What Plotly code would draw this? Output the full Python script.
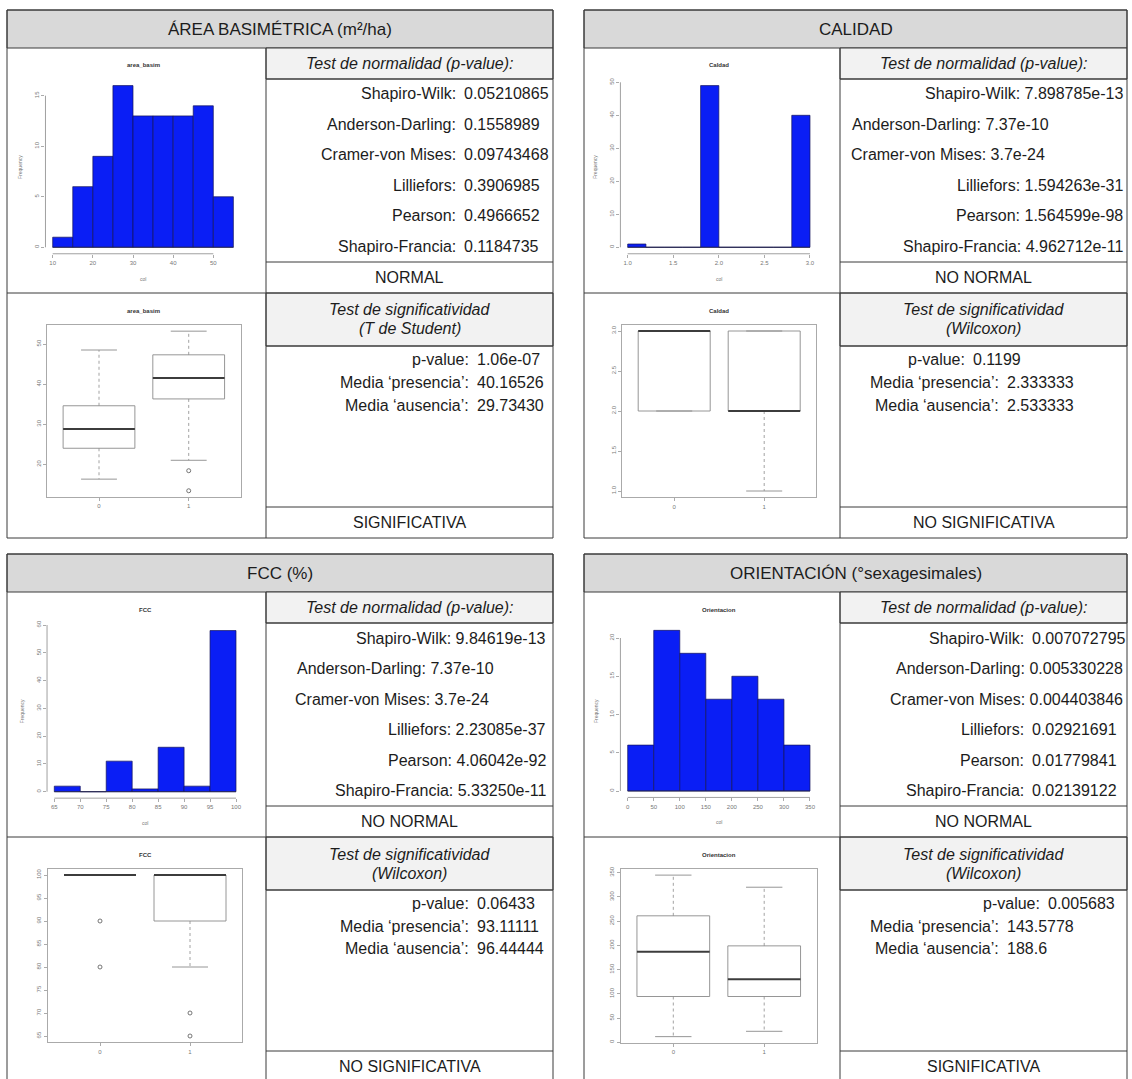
import plotly.graph_objects as go

W, H = 1132, 1079
FONT = "Liberation Sans, Arial, sans-serif"
BORDER = "#3a3a3a"
BLUE = "#0a1ef5"
BODY = 16

# ------------------------- data -------------------------
# histograms (bin edges and counts)
area_edges = [10, 15, 20, 25, 30, 35, 40, 45, 50, 55]
area_counts = [1, 6, 9, 16, 13, 13, 13, 14, 5]
calidad_edges = [1.0, 1.2, 1.4, 1.6, 1.8, 2.0, 2.2, 2.4, 2.6, 2.8, 3.0]
calidad_counts = [1, 0, 0, 0, 49, 0, 0, 0, 0, 40]
fcc_edges = [65, 70, 75, 80, 85, 90, 95, 100]
fcc_counts = [2, 0, 11, 1, 16, 2, 58]
orient_edges = [0, 50, 100, 150, 200, 250, 300, 350]
orient_counts = [6, 21, 18, 12, 15, 12, 6]

# boxplots (groups "0" and "1")
box_groups = ["0", "1"]
area_q1 = [24.0, 36.3]; area_med = [28.8, 41.5]; area_q3 = [34.6, 47.3]
area_lo = [16.3, 21.0]; area_hi = [48.5, 53.2]
area_out_grp = [1, 1]; area_out_val = [18.4, 13.4]
calidad_q1 = [2.0, 2.0]; calidad_med = [3.0, 2.0]; calidad_q3 = [3.0, 3.0]
calidad_lo = [2.0, 1.0]; calidad_hi = [3.0, 3.0]
calidad_out_grp = []; calidad_out_val = []
fcc_q1 = [100, 90]; fcc_med = [100, 100]; fcc_q3 = [100, 100]
fcc_lo = [100, 80]; fcc_hi = [100, 100]
fcc_out_grp = [0, 0, 1, 1]; fcc_out_val = [90, 80, 70, 65]
orient_q1 = [94.5, 94.5]; orient_med = [187, 130]; orient_q3 = [261, 199]
orient_lo = [11.7, 22.7]; orient_hi = [345, 320]
orient_out_grp = []; orient_out_val = []

# tick labels
area_hist_xt = [10, 20, 30, 40, 50]; area_hist_yt = [0, 5, 10, 15]
area_box_yt = [20, 30, 40, 50]
calidad_hist_xt = [1.0, 1.5, 2.0, 2.5, 3.0]; calidad_hist_yt = [0, 10, 20, 30, 40, 50]
calidad_box_yt = [1.0, 1.5, 2.0, 2.5, 3.0]
fcc_hist_xt = [65, 70, 75, 80, 85, 90, 95, 100]; fcc_hist_yt = [0, 10, 20, 30, 40, 50, 60]
fcc_box_yt = [65, 70, 75, 80, 85, 90, 95, 100]
orient_hist_xt = [0, 50, 100, 150, 200, 250, 300, 350]; orient_hist_yt = [0, 5, 10, 15, 20]
orient_box_yt = [0, 50, 100, 150, 200, 250, 300, 350]

# table texts
panel_titles = ["ÁREA BASIMÉTRICA (m²/ha)", "CALIDAD", "FCC (%)", "ORIENTACIÓN (°sexagesimales)"]
plot_titles = ["area_basim", "Caldad", "FCC", "Orientacion"]
norm_tests = ["Shapiro-Wilk:", "Anderson-Darling:", "Cramer-von Mises:", "Lilliefors:", "Pearson:", "Shapiro-Francia:"]
area_norm_p = ["0.05210865", "0.1558989", "0.09743468", "0.3906985", "0.4966652", "0.1184735"]
calidad_norm_p = ["7.898785e-13", "7.37e-10", "3.7e-24", "1.594263e-31", "1.564599e-98", "4.962712e-11"]
fcc_norm_p = ["9.84619e-13", "7.37e-10", "3.7e-24", "2.23085e-37", "4.06042e-92", "5.33250e-11"]
orient_norm_p = ["0.007072795", "0.005330228", "0.004403846", "0.02921691", "0.01779841", "0.02139122"]
normal_result = ["NORMAL", "NO NORMAL", "NO NORMAL", "NO NORMAL"]
sig_test = ["(T de Student)", "(Wilcoxon)", "(Wilcoxon)", "(Wilcoxon)"]
sig_labels = ["p-value:", "Media ‘presencia’:", "Media ‘ausencia’:"]
area_sig = ["1.06e-07", "40.16526", "29.73430"]
calidad_sig = ["0.1199", "2.333333", "2.533333"]
fcc_sig = ["0.06433", "93.11111", "96.44444"]
orient_sig = ["0.005683", "143.5778", "188.6"]
sig_result = ["SIGNIFICATIVA", "NO SIGNIFICATIVA", "NO SIGNIFICATIVA", "SIGNIFICATIVA"]

# ------------------------- layout helpers -------------------------
def X(px):
    return px / W

def Y(py):
    return 1 - py / H

shapes, annotations = [], []

def rect(x0, y0, x1, y1, fill=None, lw=1):
    shapes.append(dict(type="rect", xref="paper", yref="paper", x0=X(x0), x1=X(x1),
                       y0=Y(y1), y1=Y(y0), fillcolor=fill or "rgba(0,0,0,0)",
                       line=dict(color=BORDER, width=lw), layer="below"))

def line(x0, y0, x1, y1, color=BORDER, w=1):
    shapes.append(dict(type="line", xref="paper", yref="paper", x0=X(x0), x1=X(x1),
                       y0=Y(y0), y1=Y(y1), line=dict(color=color, width=w)))

def text(x, y, s, size=BODY, anchor="center", color="#1c1c1c", ang=0, bold=False):
    if bold:
        s = "<b>" + s + "</b>"
    annotations.append(dict(xref="paper", yref="paper", x=X(x), y=Y(y), text=s,
                            showarrow=False, xanchor=anchor, yanchor="middle", textangle=ang,
                            font=dict(family=FONT, size=size, color=color), borderpad=0))

# panel frames: (left, divider, right, top)
panels = [(7, 266, 553, 10), (584, 840, 1127, 10), (7, 266, 553, 554), (584, 840, 1127, 554)]
norm_vals = [area_norm_p, calidad_norm_p, fcc_norm_p, orient_norm_p]
sig_vals = [area_sig, calidad_sig, fcc_sig, orient_sig]

# row alignment: (mode, x offset from divider)
norm_align = [
    [("tab", 191)] * 6,
    [("right", 284), ("left", 11), ("left", 10), ("right", 284), ("right", 284), ("right", 284)],
    [("right", 281), ("left", 30), ("left", 28), ("right", 281), ("right", 281), ("right", 281)],
    [("tab", 185), ("right", 284), ("right", 284), ("tab", 185), ("tab", 185), ("tab", 185)],
]
sig_align = [
    [("tab", 204)] * 3,
    [("tab", 126), ("tab", 160), ("tab", 160)],
    [("tab", 204)] * 3,
    [("tab", 201), ("tab", 160), ("tab", 160)],
]
NORM_ROWS = [84, 114.5, 145, 175.5, 206, 236.5]
SIG_ROWS = [349, 372, 395]

for k, (L, D, R, T) in enumerate(panels):
    rect(L, T, R, T + 38, fill="#d9d9d9")
    rect(D, T + 38, R, T + 69, fill="#f2f2f2")
    rect(D, T + 283, R, T + 336, fill="#f2f2f2")
    rect(L, T, R, T + 528, lw=1)
    line(D, T + 38, D, T + 528)
    line(D, T + 69, R, T + 69)
    line(D, T + 252, R, T + 252)
    line(L, T + 283, R, T + 283)
    line(D, T + 336, R, T + 336)
    line(D, T + 497, R, T + 497)
    text((L + R) / 2, T + 19.5, panel_titles[k], size=BODY + 1)
    cx = (D + R) / 2
    text(cx, T + 53.5, "<i>Test de normalidad (p-value):</i>")
    text(cx, T + 267.5, normal_result[k])
    text(cx, T + 300, "<i>Test de significatividad</i>")
    text(cx, T + 319, "<i>" + sig_test[k] + "</i>")
    text(cx, T + 512.5, sig_result[k])
    for rows, labels, vals, align in ((NORM_ROWS, norm_tests, norm_vals[k], norm_align[k]),
                                      (SIG_ROWS, sig_labels, sig_vals[k], sig_align[k])):
        for yy, lab, val, (mode, off) in zip(rows, labels, vals, align):
            if mode == "tab":
                text(D + off, T + yy, lab, anchor="right")
                text(D + off + 6, T + yy, val, anchor="left")
            elif mode == "left":
                text(D + off, T + yy, lab + " " + val, anchor="left")
            else:
                text(D + off, T + yy, lab + " " + val, anchor="right")

# ------------------------- R-style plots -------------------------
fig = go.Figure()
layout_axes = {}
n_ax = [0]
TICKFONT = dict(family=FONT, size=6, color="#777777")

def new_axes(xcal, ycal, xr, yr, xt, yt, xtext=None, frame=False, yangle=-90):
    n_ax[0] += 1
    i = n_ax[0]
    xid = "x" if i == 1 else f"x{i}"
    yid = "y" if i == 1 else f"y{i}"
    xv1, xp1, xv2, xp2 = xcal
    sx = (xp2 - xp1) / (xv2 - xv1)
    xd0, xd1 = xp1 + (xr[0] - xv1) * sx, xp1 + (xr[1] - xv1) * sx
    yv1, yp1, yv2, yp2 = ycal
    sy = (yp2 - yp1) / (yv2 - yv1)
    yd_bot, yd_top = yp1 + (yr[0] - yv1) * sy, yp1 + (yr[1] - yv1) * sy
    common = dict(ticks="outside", ticklen=3, tickwidth=0.7, tickcolor="#888888",
                  showgrid=False, zeroline=False, tickfont=TICKFONT, automargin=False,
                  showline=frame, mirror=frame, linecolor="#aaaaaa", linewidth=1)
    layout_axes["xaxis" if i == 1 else f"xaxis{i}"] = dict(
        domain=[X(xd0), X(xd1)], range=xr, anchor=yid, tickvals=xt,
        ticktext=xtext if xtext else [str(v) for v in xt], tickangle=0, **common)
    layout_axes["yaxis" if i == 1 else f"yaxis{i}"] = dict(
        domain=[Y(yd_bot), Y(yd_top)], range=yr, anchor=xid, tickvals=yt,
        ticktext=[str(v) for v in yt], tickangle=yangle, **common)
    if not frame:
        shapes.append(dict(type="line", xref=xid, yref=f"{yid} domain", x0=xt[0], x1=xt[-1],
                           y0=0, y1=0, line=dict(color="#888888", width=0.8)))
        shapes.append(dict(type="line", xref=f"{xid} domain", yref=yid, x0=0, x1=0,
                           y0=yt[0], y1=yt[-1], line=dict(color="#888888", width=0.8)))
    box = (xd0, xd1, yd_top, yd_bot)
    return xid, yid, box

def hist(edges, counts, title, xcal, ycal, xt, yt):
    xr = [edges[0] - 0.04 * (edges[-1] - edges[0]), edges[-1] + 0.04 * (edges[-1] - edges[0])]
    ytop = max(counts)
    yr = [-0.04 * ytop, ytop * 1.04]
    xid, yid, (x0, x1, yt_px, yb_px) = new_axes(xcal, ycal, xr, yr, xt, yt)
    centers = [(a + b) / 2 for a, b in zip(edges[:-1], edges[1:])]
    widths = [b - a for a, b in zip(edges[:-1], edges[1:])]
    fig.add_trace(go.Bar(x=centers, y=counts, width=widths, xaxis=xid, yaxis=yid,
                         marker=dict(color=BLUE, line=dict(color="#14145a", width=0.7)),
                         showlegend=False, hoverinfo="skip"))
    fig.add_trace(go.Scatter(x=[edges[0], edges[-1]], y=[0, 0], mode="lines", xaxis=xid, yaxis=yid,
                             line=dict(color="#2a2a4a", width=0.8), showlegend=False, hoverinfo="skip"))
    text((x0 + x1) / 2, yt_px - 14, title, size=6, color="#333333", bold=True)
    text(x0 - 25, (yt_px + yb_px) / 2, "Frequency", size=5, color="#777777", ang=-90)
    text((x0 + x1) / 2, yb_px + 25, "col", size=5, color="#777777")

def boxplot(q1, med, q3, lo, hi, out_grp, out_val, title, xcal, ycal, yt):
    vals = lo + hi + out_val
    vmin, vmax = min(vals), max(vals)
    ext = 0.04 * (vmax - vmin)
    yr = [vmin - ext, vmax + ext]
    xr = [0.5 - 0.08, len(box_groups) + 0.5 + 0.08]
    pos = list(range(1, len(box_groups) + 1))
    xid, yid, (x0, x1, yt_px, yb_px) = new_axes(xcal, ycal, xr, yr, pos, yt, xtext=box_groups, frame=True)
    hw, cw = 0.4, 0.2
    bx, by, mx, my, wx, wy, cx_, cy_ = [], [], [], [], [], [], [], []
    for p, a, m, b, l, h in zip(pos, q1, med, q3, lo, hi):
        bx += [p - hw, p + hw, p + hw, p - hw, p - hw, None]
        by += [a, a, b, b, a, None]
        mx += [p - hw, p + hw, None]
        my += [m, m, None]
        wx += [p, p, None, p, p, None]
        wy += [b, h, None, a, l, None]
        cx_ += [p - cw, p + cw, None, p - cw, p + cw, None]
        cy_ += [h, h, None, l, l, None]
    kw = dict(xaxis=xid, yaxis=yid, showlegend=False, hoverinfo="skip", mode="lines")
    fig.add_trace(go.Scatter(x=wx, y=wy, line=dict(color="#8a8a8a", width=0.8, dash="dot"), **kw))
    fig.add_trace(go.Scatter(x=cx_, y=cy_, line=dict(color="#8a8a8a", width=0.9), **kw))
    fig.add_trace(go.Scatter(x=bx, y=by, line=dict(color="#8a8a8a", width=0.9), **kw))
    fig.add_trace(go.Scatter(x=mx, y=my, line=dict(color="#3c3c3c", width=2), **kw))
    if out_val:
        fig.add_trace(go.Scatter(x=[pos[g] for g in out_grp], y=out_val, mode="markers",
                                 xaxis=xid, yaxis=yid, showlegend=False, hoverinfo="skip",
                                 marker=dict(symbol="circle-open", size=4, color="#666666",
                                             line=dict(width=0.9))))
    text((x0 + x1) / 2, yt_px - 14, title, size=6, color="#333333", bold=True)

hist(area_edges, area_counts, plot_titles[0], (10, 52.7, 50, 213.3), (0, 247.3, 15, 95.7),
     area_hist_xt, area_hist_yt)
boxplot(area_q1, area_med, area_q3, area_lo, area_hi, area_out_grp, area_out_val, plot_titles[0],
        (1, 99, 2, 188.7), (20, 464.3, 50, 344), area_box_yt)
hist(calidad_edges, calidad_counts, plot_titles[1], (1.0, 627.7, 3.0, 810), (0, 247.3, 50, 82.3),
     calidad_hist_xt, calidad_hist_yt)
boxplot(calidad_q1, calidad_med, calidad_q3, calidad_lo, calidad_hi, calidad_out_grp, calidad_out_val,
        plot_titles[1], (1, 674.2, 2, 764.2), (3.0, 331, 1.0, 491), calidad_box_yt)
hist(fcc_edges, fcc_counts, plot_titles[2], (65, 54.3, 100, 236), (0, 791.7, 60, 625),
     fcc_hist_xt, fcc_hist_yt)
boxplot(fcc_q1, fcc_med, fcc_q3, fcc_lo, fcc_hi, fcc_out_grp, fcc_out_val, plot_titles[2],
        (1, 100, 2, 190), (100, 875, 65, 1036), fcc_box_yt)
hist(orient_edges, orient_counts, plot_titles[3], (0, 627.7, 350, 810), (0, 791, 20, 638),
     orient_hist_xt, orient_hist_yt)
boxplot(orient_q1, orient_med, orient_q3, orient_lo, orient_hi, orient_out_grp, orient_out_val,
        plot_titles[3], (1, 673.3, 2, 764.2), (0, 1042.3, 350, 872.7), orient_box_yt)

fig.update_layout(width=W, height=H, margin=dict(l=0, r=0, t=0, b=0, pad=0, autoexpand=False),
                  paper_bgcolor="white", plot_bgcolor="white", showlegend=False,
                  bargap=0, shapes=shapes, annotations=annotations, **layout_axes)
fig.write_html("out.html", config={"displayModeBar": False, "staticPlot": True},
               post_script="document.body.style.margin='0';document.body.style.padding='0';"
                           "document.body.style.overflow='hidden';"
                           "var gd=document.getElementById('{plot_id}');"
                           "gd.style.position='fixed';gd.style.top='0px';gd.style.left='0px';")
